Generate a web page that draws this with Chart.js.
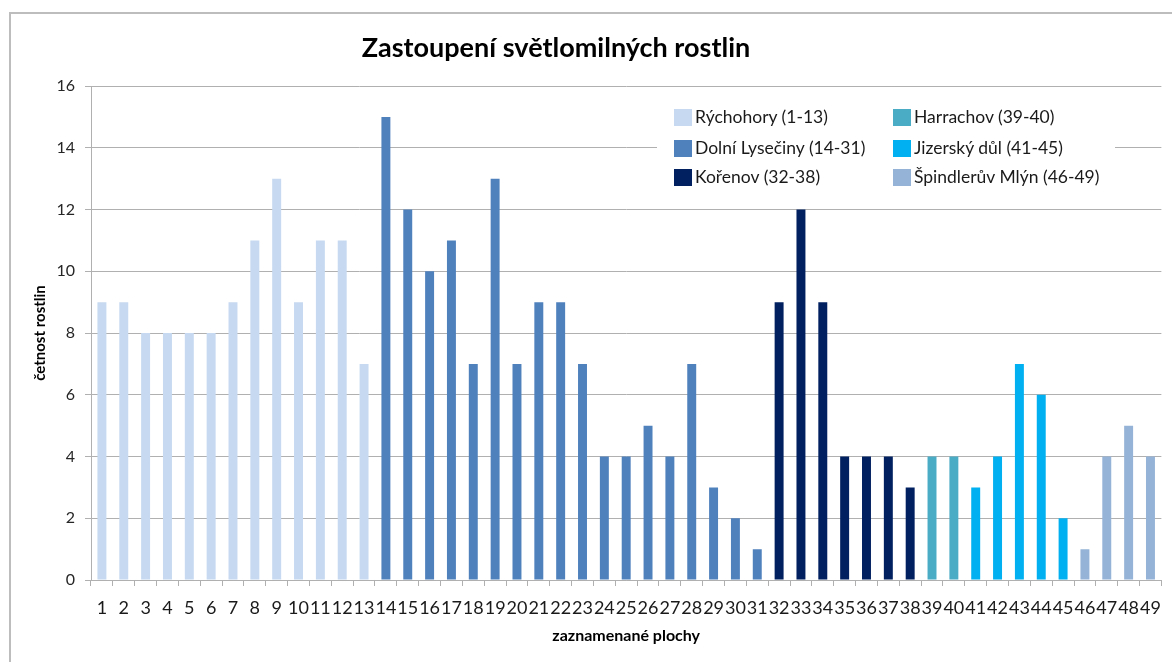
<!DOCTYPE html>
<html>
<head>
<meta charset="utf-8">
<script src="https://cdn.jsdelivr.net/npm/chart.js@4"></script>
<style>
  html, body { margin: 0; padding: 0; background: #fff; }
  #wrap { position: relative; width: 1172px; height: 662px; overflow: hidden; font-family: Lato, sans-serif; }
  #frame { position: absolute; left: 9px; top: 12px; width: 1200px; height: 700px; border-left: 2px solid #bdbdbd; border-top: 2px solid #bdbdbd; }
  #title { position: absolute; left: 0; top: 31px; width: 1112px; text-align: center; font-weight: bold; font-size: 27px; line-height: 32px; color: #000; }
  #legend { position: absolute; left: 657px; top: 96px; width: 458px; height: 100px; background: #fff; }
  .item { position: absolute; font-size: 17.5px; line-height: 20px; color: #1a1a1a; white-space: nowrap; }
  .item span.box { display: inline-block; width: 18px; height: 17px; vertical-align: -3px; margin-right: 3px; }
</style>
</head>
<body>
<div id="wrap">
  <div id="frame"></div>
  <canvas id="chart" width="1172" height="662"></canvas>
  <div id="title">Zastoupení světlomilných rostlin</div>
  <div id="legend"></div>
</div>
<script>
// plots 1..49
const categories = Array.from({ length: 49 }, (_, i) => String(i + 1));

// counts per locality, in plot order
const rychohory = [9, 9, 8, 8, 8, 8, 9, 11, 13, 9, 11, 11, 7];
const dolniLysečiny = [15, 12, 10, 11, 7, 13, 7, 9, 9, 7, 4, 4, 5, 4, 7, 3, 2, 1];
const korenov = [9, 12, 9, 4, 4, 4, 3];
const harrachov = [4, 4];
const jizerskyDul = [3, 4, 7, 6, 2];
const spindleruvMlyn = [1, 4, 5, 4];

const seriesNames = ['Rýchohory (1-13)', 'Dolní Lysečiny (14-31)', 'Kořenov (32-38)',
  'Harrachov (39-40)', 'Jizerský důl (41-45)', 'Špindlerův Mlýn (46-49)'];
const seriesValues = [rychohory, dolniLysečiny, korenov, harrachov, jizerskyDul, spindleruvMlyn];
const seriesColors = ['#c6d9f1', '#4f81bd', '#002060', '#4bacc6', '#00b0f0', '#95b3d7'];

const yTicks = [0, 2, 4, 6, 8, 10, 12, 14, 16];

// pad each locality with nulls so it sits at its own plots
let start = 0;
const datasets = seriesValues.map((vals, i) => {
  const data = categories.map((_, j) => (j >= start && j < start + vals.length) ? vals[j - start] : null);
  start += vals.length;
  return {
    label: seriesNames[i],
    data: data,
    backgroundColor: seriesColors[i],
    barPercentage: 0.41,
    categoryPercentage: 1.0
  };
});

const gridColor = '#b0b0b0';

const chart = new Chart(document.getElementById('chart'), {
  type: 'bar',
  data: { labels: categories, datasets: datasets },
  options: {
    responsive: false,
    animation: false,
    skipNull: true,
    layout: { padding: { left: 25, top: 86, right: 9, bottom: 12 } },
    plugins: {
      legend: { display: false },
      tooltip: { enabled: false }
    },
    scales: {
      x: {
        grid: { drawOnChartArea: false, drawTicks: true, tickLength: 6, color: gridColor, offset: true },
        border: { color: gridColor },
        ticks: { autoSkip: false, maxRotation: 0, minRotation: 0, padding: 11,
          color: '#1a1a1a', font: { family: 'Lato', size: 18 } },
        title: { display: true, text: 'zaznamenané plochy', color: '#000',
          font: { family: 'Lato', size: 16, weight: 'bold' }, padding: { top: 0, bottom: 5 } },
        afterFit: (scale) => { scale.height = 70; }
      },
      y: {
        min: 0, max: 16,
        afterBuildTicks: (scale) => { scale.ticks = yTicks.map(v => ({ value: v })); },
        grid: { color: gridColor, tickLength: 6 },
        border: { color: gridColor },
        ticks: { padding: 10, color: '#262626', font: { family: 'Lato', size: 16 } },
        title: { display: true, text: 'četnost rostlin', color: '#000',
          font: { family: 'Lato', size: 15, weight: 'bold' }, padding: { top: 6, bottom: 0 } },
        afterFit: (scale) => { scale.width = 66; }
      }
    }
  }
});

// legend in two columns, filled top to bottom
const legendEl = document.getElementById('legend');
const colX = [17, 236];
const rowY = [11, 42, 71];
chart.data.datasets.forEach((ds, i) => {
  const item = document.createElement('div');
  item.className = 'item';
  item.style.left = colX[Math.floor(i / 3)] + 'px';
  item.style.top = rowY[i % 3] + 'px';
  item.innerHTML = '<span class="box" style="background:' + ds.backgroundColor + '"></span>' + ds.label;
  legendEl.appendChild(item);
});
</script>
</body>
</html>
